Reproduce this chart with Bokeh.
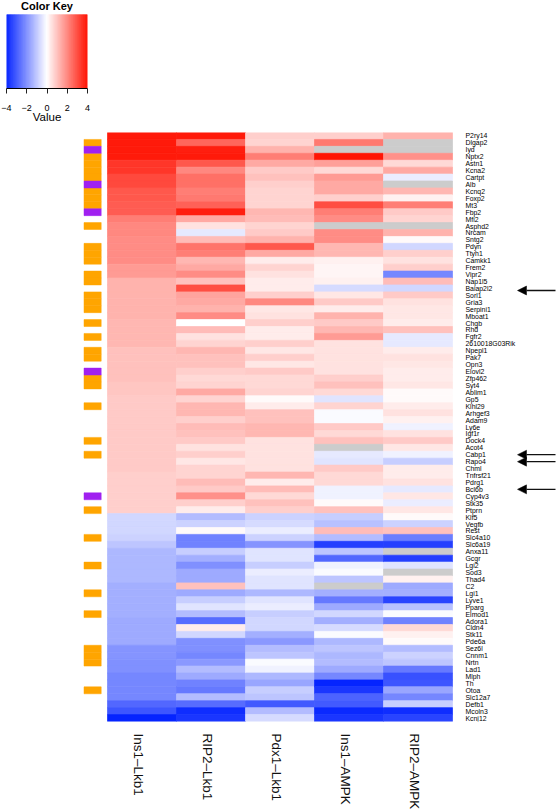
import numpy as np
from bokeh.core.properties import value
from bokeh.embed import file_html
from bokeh.models import Arrow, ColumnDataSource, FixedTicker, LinearAxis, LinearColorMapper, NormalHead
from bokeh.plotting import figure
from bokeh.resources import INLINE

NA = float("nan")

SAMPLES = ["Ins1–Lkb1", "RIP2–Lkb1", "Pdx1–Lkb1", "Ins1–AMPK", "RIP2–AMPK"]

GENES = ["P2ry14", "Dlgap2", "Iyd", "Nptx2", "Astn1", "Kcna2", "Cartpt", "Alb", "Kcnq2", "Foxp2",
         "Mt3", "Fbp2", "Mfi2", "Asphd2", "Nrcam", "Sntg2", "Pdyn", "Ttyh1", "Camkk1", "Frem2",
         "Vipr2", "Nap1l5", "Baiap2l2", "Sorl1", "Gria3", "Serpini1", "Mboat1", "Chgb", "Rhd", "Fgfr2",
         "2610018G03Rik", "Npepl1", "Pak7", "Opn3", "Elovl2", "Zfp462", "Syt4", "Ablim1", "Gp5", "Klhl29",
         "Arhgef3", "Adam9", "Ly6e", "Igf1r", "Dock4", "Acot4", "Cabp1", "Rapo4", "Chml", "Tnfrsf21",
         "Pdrg1", "Bcl6b", "Cyp4v3", "Stk35", "Ptprn", "Klf5", "Vegfb", "Rest", "Slc4a10", "Slc6a19",
         "Anxa11", "Gcgr", "Lgi2", "Sod3", "Thad4", "C2", "Lgi1", "Lyve1", "Pparg", "Elmod1",
         "Adora1", "Cldn4", "Stk11", "Pde6a", "Sez6l", "Cnnm1", "Nrtn", "Lad1", "Mlph", "Th",
         "Otoa", "Slc12a7", "Defb1", "Mcoln3", "Kcnj12"]

INS1_LKB1 = [3.8, 3.8, 3.8, 3.8, 3.3, 3.3, 3.0, 3.0, 2.8, 2.8, 2.7, 2.7, 2.1, 2.0, 2.0, 1.9, 1.9, 1.9, 1.9, 1.7,
             1.7, 1.3, 1.3, 1.3, 1.25, 1.25, 1.25, 1.2, 1.2, 1.2, 1.15, 1.0, 1.0, 1.0, 1.0, 1.0, .95, .95, .9, .9,
             .9, .9, .9, .85, .85, .85, .85, .85, .85, .8, .8, .8, .8, .8, .8, -.7, -.7, -.7, -.8, -1.0,
             -1.3, -1.3, -1.3, -1.3, -1.3, -1.4, -1.45, -1.45, -1.45, -1.45, -1.5, -1.5, -1.5, -1.5, -1.9, -1.9, -2.0, -2.0, -2.1, -2.1,
             -2.1, -2.1, -2.7, -3.0, -3.9]
RIP2_LKB1 = [3.8, 2.5, 3.7, 3.8, 2.8, 2.0, 2.4, 2.4, 2.1, 2.2, 2.6, 3.7, 1.4, .5, -.4, 1.1, 2.3, 2.1, 1.2, 1.4,
             1.9, 1.0, 2.9, 1.5, 1.4, 1.3, 1.9, 0, 1.1, .5, .7, 1.2, 1.0, 1.0, .8, .6, .7, 1.4, .7, 1.2,
             1.2, .8, 1.1, 1.0, .9, .5, .8, .4, .7, .7, 1.1, .9, 1.8, .8, .3, -1.2, -.8, .1, -2.2, -2.2,
             -.9, -1.4, -2.0, -1.5, -1.5, 1.0, -1.5, -.9, -.5, -1.2, -2.6, .3, -.7, -2.0, -2.0, -2.1, -1.8, -1.2, -1.5, -2.2,
             -2.4, -1.2, -2.6, -3.7, -3.6]
PDX1_LKB1 = [.8, .7, 1.3, 2.1, 1.4, .9, 1.0, .8, .7, .7, .7, 1.2, 1.1, .7, .9, 1.3, 2.8, 1.4, .3, .7,
             .5, .3, .3, .8, 2.0, .4, .5, .8, .3, .3, .8, .4, .8, .4, .9, .6, .6, .7, .1, .3,
             1.0, 1.0, 1.2, 1.2, .5, .5, .5, .5, .5, 1.2, .3, 1.1, .6, 1.0, .8, -.8, -.6, -.3, -.8, -1.9,
             -.5, -.5, -.9, -.3, -.5, -.5, -1.3, -.5, -.3, -.9, -.7, -.7, -1.4, -1.8, -1.2, -1.0, -.1, -.2, -1.3, -1.6,
             -.9, -1.0, -2.9, -1.2, -.6]
INS1_AMPK = [.8, 2.2, NA, 3.9, 1.6, .6, 1.7, 1.4, 1.4, .8, 2.9, 2.1, 1.9, NA, 1.9, 1.9, 1.2, 1.2, .2, .15,
             .15, .2, -.6, .4, .9, .3, 1.3, .9, 1.2, 1.7, .5, .5, .5, .5, .5, .8, 1.0, .6, -.5, .7,
             -.1, -.1, .9, .6, 1.0, NA, -.4, -.5, .9, .6, .6, -.2, -.2, .05, 1.0, -.9, -1.1, 1.1, -1.2, -3.4,
             -1.0, -2.7, -.2, -.1, -1.0, NA, -1.4, -2.4, -1.5, -.7, -1.4, -.6, -.1, -1.3, -1.0, -1.3, -1.2, -1.5, -2.1, -3.9,
             -3.6, -2.8, -2.9, -3.8, -3.6]
RIP2_AMPK = [1.3, NA, NA, 1.8, .6, 1.4, -.3, NA, 1.2, .2, 2.1, .9, .7, NA, 1.3, .1, -.7, .8, .5, .8,
             -2.1, 1.1, -.7, .9, .5, .4, .4, .3, 1.0, -.4, -.4, .3, .5, .4, .3, .3, .4, .1, .1, .3,
             .5, .2, -.2, .5, .9, .4, -.2, -.9, .3, .3, .5, -.4, .4, -.3, .4, .05, -.8, 1.0, -2.3, -3.4,
             NA, -3.4, -.5, NA, .2, -1.5, -1.4, -3.3, -1.1, -.05, -2.2, .6, .2, .1, -1.2, -.8, -1.0, -2.4, -3.1, -3.0,
             -1.6, -2.1, -.9, -3.7, -3.3]

SIDE_ORANGE = ["Dlgap2", "Nptx2", "Astn1", "Kcna2", "Cartpt", "Kcnq2", "Foxp2", "Mt3", "Asphd2", "Pdyn",
               "Ttyh1", "Camkk1", "Vipr2", "Nap1l5", "Sorl1", "Gria3", "Serpini1", "Chgb", "Fgfr2", "Npepl1",
               "Pak7", "Zfp462", "Syt4", "Klhl29", "Dock4", "Cabp1", "Ptprn", "Slc4a10", "Lgi2", "Lgi1",
               "Elmod1", "Sez6l", "Cnnm1", "Nrtn", "Otoa"]
SIDE_PURPLE = ["Iyd", "Alb", "Fbp2", "Elovl2", "Cyp4v3"]
ARROW_GENES = ["Baiap2l2", "Cabp1", "Rapo4", "Bcl6b"]

KEY_TICKS = [-4, -2, 0, 2, 4]

FONT = "Liberation Sans"
LOW, HIGH = -4.0, 4.0


def ramp(n=101):
    stops = np.array([[0, 32, 255], [255, 255, 255], [255, 16, 0]], float)
    t = np.linspace(0, 2, n)
    out = []
    for v in t:
        i = min(int(v), 1)
        c = stops[i] + (stops[i + 1] - stops[i]) * (v - i)
        out.append("#%02x%02x%02x" % tuple(int(round(x)) for x in c))
    return out


PALETTE = ramp()
mapper = LinearColorMapper(palette=PALETTE, low=LOW, high=HIGH, nan_color="#cccccc")
transform = {"field": "v", "transform": mapper}

# ---- colour key ----
KEY_BAND_PX = 78.0
KEY_FRAME_PX = 93.0
key = figure(width=120, height=125, x_range=(-4.0, 4.0), y_range=(0, KEY_FRAME_PX / KEY_BAND_PX),
             toolbar_location=None, output_backend="svg",
             min_border_left=6, min_border_right=33, min_border_top=0, min_border_bottom=32,
             title=None)
key.grid.visible = False
key.outline_line_color = None
key.yaxis.visible = False
key.xaxis.visible = False
edges = np.linspace(LOW, HIGH, len(PALETTE) + 1)
key.quad(left=edges[:-1], right=edges[1:], bottom=0, top=1,
         fill_color=PALETTE, line_color=PALETTE, line_width=0.5)
key.text(x=[0], y=[(KEY_FRAME_PX - 6.0) / KEY_BAND_PX], text=["Color Key"], text_align="center",
         text_baseline="middle", text_font=value(FONT), text_font_size="11px", text_font_style="bold",
         text_color="black")
ax = LinearAxis(ticker=FixedTicker(ticks=KEY_TICKS), axis_label="Value")
ax.axis_line_color = "black"
ax.axis_line_width = 1.2
ax.major_tick_line_color = "#222222"
ax.major_tick_in = 0
ax.major_tick_out = 5
ax.minor_tick_line_color = None
ax.major_label_text_font = FONT
ax.major_label_text_font_size = "9px"
ax.major_label_text_color = "black"
ax.major_label_standoff = 11
ax.axis_label_text_font = FONT
ax.axis_label_text_font_style = "normal"
ax.axis_label_text_font_size = "11.5px"
ax.axis_label_text_color = "black"
ax.axis_label_standoff = -3
key.add_layout(ax, "below")
key.styles = {"position": "absolute", "left": "0px", "top": "0px"}

# ---- heat map ----
COL_PX = 69.0
x_start = (0 - 107.0) / COL_PX
x_end = (557 - 107.0) / COL_PX

main = figure(width=557, height=687, x_range=(x_start, x_end), y_range=(len(GENES), 0),
              toolbar_location=None, output_backend="svg",
              min_border_left=0, min_border_right=0, min_border_top=7, min_border_bottom=89,
              title=None)
main.grid.visible = False
main.outline_line_color = None
main.yaxis.visible = False
main.xaxis.visible = False
main.styles = {"position": "absolute", "left": "0px", "top": "125px"}

columns = [INS1_LKB1, RIP2_LKB1, PDX1_LKB1, INS1_AMPK, RIP2_AMPK]
xs, ys, vs = [], [], []
for c, col in enumerate(columns):
    for r, val in enumerate(col):
        xs.append(c)
        ys.append(r)
        vs.append(val)
src = ColumnDataSource(dict(l=xs, r=[x + 1 for x in xs], t=ys, b=[y + 1 for y in ys], v=vs))
main.quad(left="l", right="r", top="t", bottom="b", source=src,
          fill_color=transform, line_color=transform, line_width=0.7)

# side colour bar
SIDE_L, SIDE_R = (83.5 - 107) / COL_PX, (100.7 - 107) / COL_PX
for names, colour in ((SIDE_ORANGE, "#ffa500"), (SIDE_PURPLE, "#a020f0")):
    rows = [GENES.index(n) for n in names]
    main.quad(left=SIDE_L, right=SIDE_R, top=rows, bottom=[r + 1 for r in rows],
              fill_color=colour, line_color=colour, line_width=0.5)

# gene labels
LABEL_X = (465.0 - 107) / COL_PX
main.text(x=[LABEL_X] * len(GENES), y=[i + 0.5 for i in range(len(GENES))], text=GENES,
          text_font=value(FONT), text_font_size="6.9px", text_baseline="middle", text_align="left",
          text_color="black")

# arrows
ARROW_TIP = (517.0 - 107) / COL_PX
ARROW_TAIL = (555.0 - 107) / COL_PX
for g in ARROW_GENES:
    y = GENES.index(g) + 0.5
    if g == "Baiap2l2":
        y += 0.3
    main.add_layout(Arrow(end=NormalHead(size=9, fill_color="black", line_color="black", line_width=0.5),
                          x_start=ARROW_TAIL, y_start=y, x_end=ARROW_TIP, y_end=y,
                          line_color="#111111", line_width=1.3))

# column labels
LABEL_SHIFT = 4.0 / COL_PX
tick_pos = [i + 0.5 - LABEL_SHIFT for i in range(len(SAMPLES))]
bx = LinearAxis(ticker=FixedTicker(ticks=tick_pos),
                major_label_overrides={p: s for p, s in zip(tick_pos, SAMPLES)})
bx.axis_line_color = None
bx.major_tick_line_color = None
bx.minor_tick_line_color = None
bx.major_tick_in = 0
bx.major_tick_out = 0
bx.minor_tick_in = 0
bx.minor_tick_out = 0
bx.major_label_orientation = "vertical"
bx.major_label_text_font = FONT
bx.major_label_text_font_size = "13.5px"
bx.major_label_standoff = 12
bx.major_label_text_color = "#111111"
main.add_layout(bx, "below")

open("out.html", "w").write(file_html([key, main], INLINE))
